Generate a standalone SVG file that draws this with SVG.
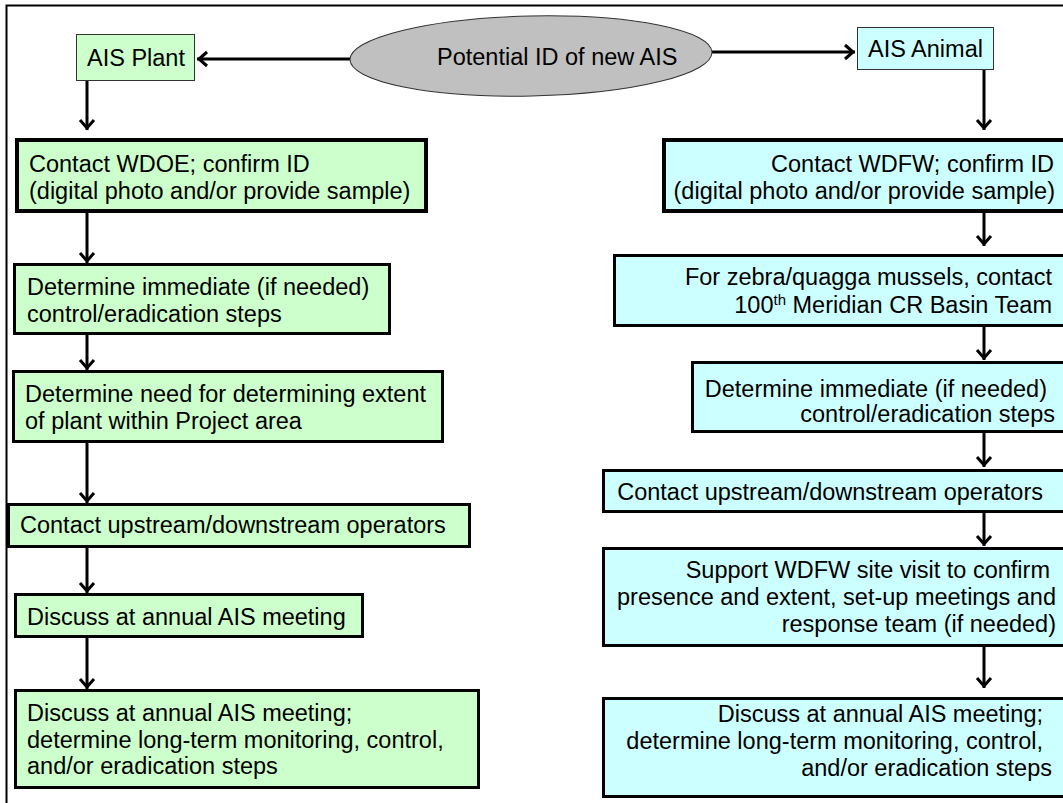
<svg xmlns="http://www.w3.org/2000/svg" width="1063" height="803" viewBox="0 0 1063 803">
<style>
  text { font-family: "Liberation Sans", Arial, sans-serif; font-size: 23.5px; fill: #000; }
  .g { fill: #ccffcc; }
  .c { fill: #ccffff; }
  .thin { stroke: #333; stroke-width: 1; }
  .t3 { stroke: #000; stroke-width: 3; }
  .t4 { stroke: #000; stroke-width: 4; }
  .r { text-anchor: end; }
  .con { stroke: #000; stroke-width: 3; fill: none; marker-end: url(#ah); }
  .sup { font-size: 15px; }
</style>
<defs>
  <marker id="ah" markerUnits="userSpaceOnUse" markerWidth="18" markerHeight="18" viewBox="-14 -9 18 18" refX="0" refY="0" orient="auto">
    <path d="M-10,-7 L-2,0 L-10,7" fill="none" stroke="#000" stroke-width="3"/>
  </marker>
</defs>
<rect width="1063" height="803" fill="#fff"/>
<path id="frame" d="M6.5,803 V5.5 H1063" fill="none" stroke="#000" stroke-width="2"/>

<g id="connectors">
  <line class="con" x1="350" y1="59" x2="197" y2="59"/>
  <line class="con" x1="712" y1="52" x2="855" y2="52"/>
  <line class="con" x1="87" y1="81" x2="87" y2="130"/>
  <line class="con" x1="87" y1="213" x2="87" y2="263"/>
  <line class="con" x1="87" y1="335" x2="87" y2="370"/>
  <line class="con" x1="87" y1="443" x2="87" y2="503"/>
  <line class="con" x1="87" y1="548" x2="87" y2="593"/>
  <line class="con" x1="87" y1="638" x2="87" y2="689"/>
  <line class="con" x1="984" y1="70" x2="984" y2="130"/>
  <line class="con" x1="984" y1="213" x2="984" y2="246"/>
  <line class="con" x1="984" y1="327" x2="984" y2="360"/>
  <line class="con" x1="984" y1="433" x2="984" y2="467"/>
  <line class="con" x1="984" y1="513" x2="984" y2="546"/>
  <line class="con" x1="984" y1="647" x2="984" y2="688"/>
</g>

<g id="start">
  <ellipse cx="531" cy="56" rx="181" ry="40" fill="#c0c0c0" stroke="#333" stroke-width="1" transform="rotate(-1.2 531 56)"/>
  <text x="437" y="65">Potential ID of new AIS</text>
</g>

<g id="ais-plant">
  <rect class="g thin" x="76.5" y="34.5" width="118" height="46"/>
  <text x="87" y="65.5">AIS Plant</text>
</g>

<g id="ais-animal">
  <rect class="c thin" x="857.5" y="27.5" width="136" height="42"/>
  <text x="868" y="57">AIS Animal</text>
</g>

<g id="l1">
  <rect class="g t4" x="17" y="140" width="409" height="71"/>
  <text x="29" y="172">Contact WDOE; confirm ID</text>
  <text x="29" y="199">(digital photo and/or provide sample)</text>
</g>
<g id="l2">
  <rect class="g t3" x="14.5" y="264.5" width="375" height="69"/>
  <text x="27" y="295">Determine immediate (if needed)</text>
  <text x="27" y="322">control/eradication steps</text>
</g>
<g id="l3">
  <rect class="g t3" x="13.5" y="371.5" width="429" height="70"/>
  <text x="25" y="402">Determine need for determining extent</text>
  <text x="25" y="429">of plant within Project area</text>
</g>
<g id="l4">
  <rect class="g t3" x="8.5" y="504.5" width="461" height="42"/>
  <text x="20" y="533">Contact upstream/downstream operators</text>
</g>
<g id="l5">
  <rect class="g t3" x="15.5" y="594.5" width="347" height="42"/>
  <text x="27" y="625">Discuss at annual AIS meeting</text>
</g>
<g id="l6">
  <rect class="g t3" x="15.5" y="690.5" width="463" height="97"/>
  <text x="27" y="721">Discuss at annual AIS meeting;</text>
  <text x="27" y="748">determine long-term monitoring, control,</text>
  <text x="27" y="774">and/or eradication steps</text>
</g>

<g id="r1">
  <rect class="c t4" x="664" y="140" width="420" height="71"/>
  <text class="r" x="1054" y="172">Contact WDFW; confirm ID</text>
  <text class="r" x="1055" y="199">(digital photo and/or provide sample)</text>
</g>
<g id="r2">
  <rect class="c t3" x="614.5" y="255.5" width="470" height="70"/>
  <text class="r" x="1052" y="285">For zebra/quagga mussels, contact</text>
  <text class="r" x="1052" y="313">100<tspan class="sup" dy="-8">th</tspan><tspan dy="8"> Meridian CR Basin Team</tspan></text>
</g>
<g id="r3">
  <rect class="c t3" x="692.5" y="362.5" width="392" height="69"/>
  <text class="r" x="1047" y="397">Determine immediate (if needed)</text>
  <text class="r" x="1055" y="422">control/eradication steps</text>
</g>
<g id="r4">
  <rect class="c t3" x="603.5" y="470.5" width="481" height="41"/>
  <text class="r" x="1043" y="500">Contact upstream/downstream operators</text>
</g>
<g id="r5">
  <rect class="c t3" x="603.5" y="548.5" width="481" height="97"/>
  <text class="r" x="1050" y="578">Support WDFW site visit to confirm</text>
  <text class="r" x="1056" y="605">presence and extent, set-up meetings and</text>
  <text class="r" x="1056" y="632">response team (if needed)</text>
</g>
<g id="r6">
  <rect class="c t3" x="603.5" y="698.5" width="481" height="98"/>
  <text class="r" x="1043" y="722">Discuss at annual AIS meeting;</text>
  <text class="r" x="1043" y="749">determine long-term monitoring, control,</text>
  <text class="r" x="1052" y="776">and/or eradication steps</text>
</g>
</svg>
